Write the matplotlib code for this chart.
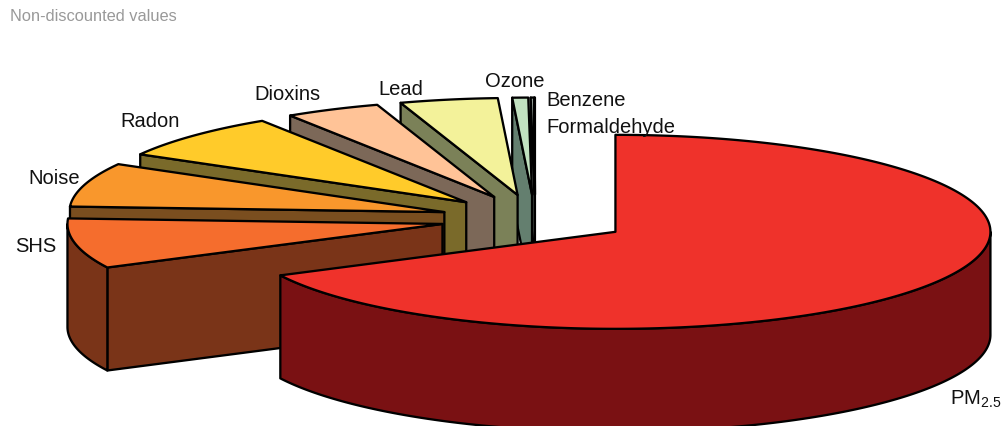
import numpy as np
import matplotlib
matplotlib.use("Agg")
import matplotlib.pyplot as plt

plt.rcParams['font.family'] = ['Liberation Sans', 'DejaVu Sans']
plt.rcParams['mathtext.default'] = 'regular'

# Slice values (percent, non-discounted)
labels = ['PM$_{2.5}$', 'SHS', 'Noise', 'Radon', 'Dioxins', 'Lead', 'Ozone', 'Benzene', 'Formaldehyde']
values = [67.45, 8.3, 7.3, 7.6, 4.1, 4.2, 0.68, 0.14, 0.02]

top_colors = ['#EF322B', '#F56D2D', '#F9972C', '#FFCB2A', '#FFC397', '#F3F29A', '#C1E1C0', '#A8B4AC', '#E8F0E8']
side_colors = ['#7A1113', '#7A3418', '#7A4E1F', '#7A6A2A', '#7C6858', '#7B8158', '#647F6F', '#A8B4AC', '#9AA8A0']

# Pie layout in pixels
CX, CY = 535, 219
RX, RY = 375, 97
DEPTH = 103
EXPLODE = 0.252
LW = 1.65

# Label anchors (left, baseline) in pixels
label_pos = [(950, 405), (15, 252), (28, 184), (120, 127), (254, 100),
             (378, 95), (485, 87), (546, 106), (546, 133)]


def point(theta, offset):
    # theta is clockwise from 12 o'clock, radians
    return (offset[0] + RX * np.sin(theta), offset[1] - RY * np.cos(theta))


def arc(t1, t2, offset):
    t = np.linspace(t1, t2, max(2, int(abs(t2 - t1) * 120)))
    return offset[0] + RX * np.sin(t), offset[1] - RY * np.cos(t)


def draw_face(ax, xs, ys, color, z):
    ax.fill(xs, ys, facecolor=color, edgecolor='black', linewidth=LW,
            joinstyle='round', zorder=z)


def draw_slice(ax, t1, t2, top, side, z):
    mid = (t1 + t2) / 2
    tip = (CX + EXPLODE * RX * np.sin(mid), CY - EXPLODE * RY * np.cos(mid))

    # cut face on the first edge
    if np.sin(t1) < 0:
        x, y = point(t1, tip)
        draw_face(ax, [x, x, tip[0], tip[0]], [y, y + DEPTH, tip[1] + DEPTH, tip[1]], side, z)
    # cut face on the second edge
    if np.sin(t2) > 0:
        x, y = point(t2, tip)
        draw_face(ax, [x, x, tip[0], tip[0]], [y, y + DEPTH, tip[1] + DEPTH, tip[1]], side, z)

    # outer rim, only the half turned to the viewer
    a, b = max(t1, np.pi / 2), min(t2, 1.5 * np.pi)
    if b > a:
        xa, ya = arc(a, b, tip)
        draw_face(ax, np.r_[xa, xa[::-1]], np.r_[ya, ya[::-1] + DEPTH], side, z)

    # top surface
    xa, ya = arc(t1, t2, tip)
    draw_face(ax, np.r_[tip[0], xa], np.r_[tip[1], ya], top, z)


fig = plt.figure(figsize=(10.05, 4.26), dpi=100)
ax = fig.add_axes([0, 0, 1, 1])
ax.set_xlim(0, 1005)
ax.set_ylim(426, 0)
ax.axis('off')

edges = np.r_[0, np.cumsum(values)] / np.sum(values) * 2 * np.pi

# back slices first, the big PM slice goes on top of everything
n = len(values)
for i in list(range(n - 1, 0, -1)) + [0]:
    draw_slice(ax, edges[i], edges[i + 1], top_colors[i], side_colors[i], n - i if i else n + 1)

for lab, (x, y) in zip(labels, label_pos):
    ax.text(x, y, lab, fontsize=14.5, color='#111111', ha='left', va='baseline', zorder=20)

ax.text(10, 21, 'Non-discounted values', fontsize=11.8, color='#999999', ha='left', va='baseline', zorder=20)

fig.savefig('out.png', dpi=100, facecolor='white')
